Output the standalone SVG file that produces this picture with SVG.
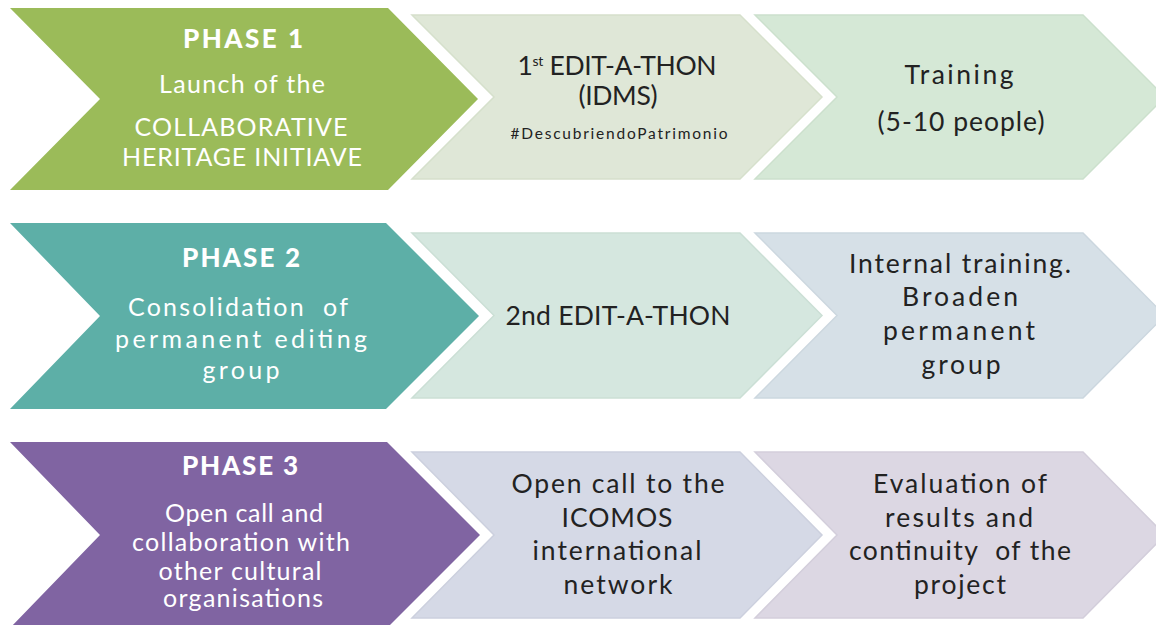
<svg xmlns="http://www.w3.org/2000/svg" width="1156" height="625" viewBox="0 0 1156 625">
  <style>
    .phase-title { font-family: Lato, "Open Sans", "Liberation Sans", sans-serif; font-weight: 900; font-size: 26px; fill: #ffffff; text-anchor: middle; }
    .phase-text { font-family: Lato, "Open Sans", "Liberation Sans", sans-serif; font-weight: 400; font-size: 25px; fill: #ffffff; text-anchor: middle; white-space: pre; }
    .step-text { font-family: Lato, "Open Sans", "Liberation Sans", sans-serif; font-weight: 400; font-size: 26.5px; fill: #222222; text-anchor: middle; white-space: pre; }
    .tag-text { font-family: Lato, "Open Sans", "Liberation Sans", sans-serif; font-weight: 400; font-size: 15.5px; fill: #222222; text-anchor: middle; }
    .step { stroke-width: 1.5; }
  </style>

  <rect width="1156" height="625" fill="#ffffff"/>

  <!-- Row 1 -->
  <g id="phase1">
    <polygon points="10,8 388,8 478,99 388,190 10,190 100,99" fill="#9BBB59"/>
    <text class="phase-title" x="243" y="48" textLength="120">PHASE 1</text>
    <text class="phase-text" x="242" y="93" textLength="166">Launch of the</text>
    <text class="phase-text" x="241" y="136" textLength="213">COLLABORATIVE</text>
    <text class="phase-text" x="242" y="166" textLength="240">HERITAGE INITIAVE</text>
  </g>

  <g id="edit-a-thon-1">
    <polygon class="step" points="412,15 740,15 822,97 740,179 412,179 494,97" fill="#DFE7D7" stroke="#D6E0CC"/>
    <text class="step-text" x="617" y="75" textLength="199">1<tspan font-size="14" dy="-9">st</tspan><tspan dy="9"> EDIT-A-THON</tspan></text>
    <text class="step-text" x="618" y="105" textLength="79">(IDMS)</text>
    <text class="tag-text" x="619" y="139" textLength="217">#DescubriendoPatrimonio</text>
  </g>

  <g id="training">
    <polygon class="step" points="755,15 1083,15 1165,97 1083,179 755,179 837,97" fill="#D5E8D6" stroke="#CCE0CD"/>
    <text class="step-text" x="959" y="84" textLength="109">Training</text>
    <text class="step-text" x="961" y="131" textLength="167">(5-10 people)</text>
  </g>

  <!-- Row 2 -->
  <g id="phase2">
    <polygon points="10,223 386,223 479,316 386,409 10,409 100,316" fill="#5DAFA7"/>
    <text class="phase-title" x="241" y="267" textLength="118">PHASE 2</text>
    <text class="phase-text" x="238" y="316" textLength="220">Consolidation  of</text>
    <text class="phase-text" x="241" y="348" textLength="252">permanent editing</text>
    <text class="phase-text" x="241" y="379" textLength="77">group</text>
  </g>

  <g id="edit-a-thon-2">
    <polygon class="step" points="412,233 740,233 822,315.5 740,398 412,398 494,315.5" fill="#D5E7DF" stroke="#CBDFD5"/>
    <text class="step-text" x="618" y="325" textLength="225">2nd EDIT-A-THON</text>
  </g>

  <g id="internal-training">
    <polygon class="step" points="755,233 1083,233 1165,315.5 1083,398 755,398 837,315.5" fill="#D6E0E7" stroke="#CCD7DF"/>
    <text class="step-text" x="960" y="273" textLength="222">Internal training.</text>
    <text class="step-text" x="960" y="306" textLength="116">Broaden</text>
    <text class="step-text" x="959" y="340" textLength="152">permanent</text>
    <text class="step-text" x="961" y="374" textLength="79">group</text>
  </g>

  <!-- Row 3 -->
  <g id="phase3">
    <polygon points="10,442 387,442 480,535 387,628 10,628 100,535" fill="#8064A2"/>
    <text class="phase-title" x="240" y="475" textLength="116">PHASE 3</text>
    <text class="phase-text" x="244" y="522" textLength="158">Open call and</text>
    <text class="phase-text" x="241" y="551" textLength="218">collaboration with</text>
    <text class="phase-text" x="240" y="580" textLength="163">other cultural</text>
    <text class="phase-text" x="243" y="607" textLength="160">organisations</text>
  </g>

  <g id="open-call">
    <polygon class="step" points="412,452 740,452 822,535 740,618 412,618 494,535" fill="#D5D9E6" stroke="#CCD0DE"/>
    <text class="step-text" x="618" y="493" textLength="213">Open call to the</text>
    <text class="step-text" x="617" y="527" textLength="111">ICOMOS</text>
    <text class="step-text" x="617" y="560" textLength="169">international</text>
    <text class="step-text" x="618" y="594" textLength="109">network</text>
  </g>

  <g id="evaluation">
    <polygon class="step" points="755,452 1083,452 1165,535 1083,618 755,618 837,535" fill="#DCD7E3" stroke="#D3CEDB"/>
    <text class="step-text" x="960" y="493" textLength="174">Evaluation of</text>
    <text class="step-text" x="959" y="527" textLength="148">results and</text>
    <text class="step-text" x="960" y="560" textLength="222">continuity  of the</text>
    <text class="step-text" x="960" y="594" textLength="92">project</text>
  </g>

  <g id="connectors"/>
</svg>
